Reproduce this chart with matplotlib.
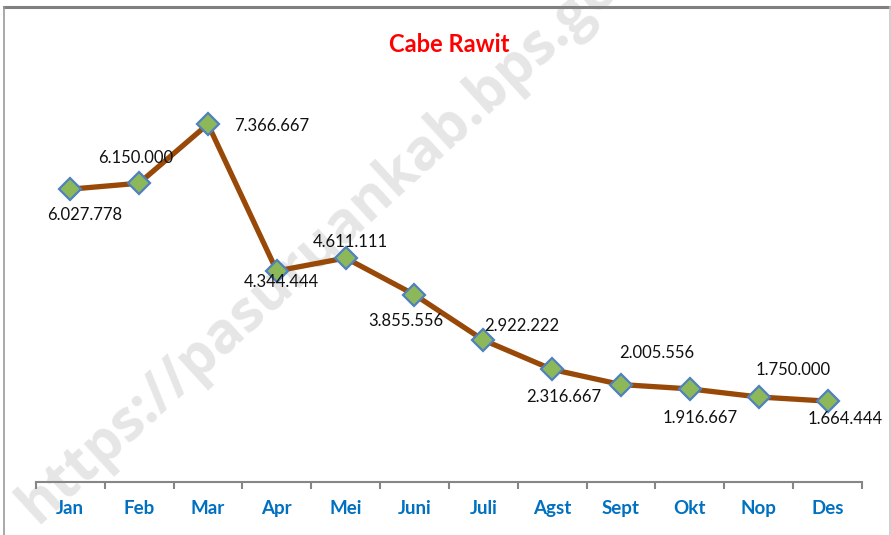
import matplotlib
matplotlib.use("Agg")
import matplotlib.pyplot as plt

months = ["Jan", "Feb", "Mar", "Apr", "Mei", "Juni", "Juli", "Agst", "Sept", "Okt", "Nop", "Des"]
values = [6027778, 6150000, 7366667, 4344444, 4611111, 3855556, 2922222, 2316667,
          2005556, 1916667, 1750000, 1664444]
title = "Cabe Rawit"

# label offsets in pixels (dx, dy)
offsets = [(14, -26), (-3, 25), (64, -2), (5, -11), (5, 16), (-9, -26), (38, 14),
           (12, -28), (36, 32), (10, -29), (34, 27), (18, -18)]

W, H = 891, 535
fig = plt.figure(figsize=(W / 100, H / 100), dpi=100)
fig.patch.set_facecolor("white")

def fx(px):
    return px / W

def fy(py):
    return 1 - py / H

# border
fig.add_artist(plt.Line2D([fx(4), fx(889)], [fy(7), fy(7)], color="#808080", lw=2.2))
fig.add_artist(plt.Line2D([fx(4), fx(4)], [fy(7), 0], color="#9a9a9a", lw=1.2))
fig.add_artist(plt.Line2D([fx(889.5), fx(889.5)], [fy(7), 0], color="#c8c8c8", lw=1.2))

# watermark (background)
fig.text(fx(345), fy(222), "https://pasuruankab.bps.go.id", rotation=42.5,
         fontsize=41, fontweight="bold", family="Open Sans", color="#e6e6e6",
         ha="center", va="center", zorder=0)

x0, x1 = 35.8, 862
y_axis = 482
ymax = 8000000
scale = 4.858e-5
ax = fig.add_axes([fx(x0), fy(y_axis), (x1 - x0) / W, ymax * scale / H])
ax.set_zorder(5)
ax.set_facecolor("none")
ax.set_xlim(-0.5, len(months) - 0.5)
ax.set_ylim(0, ymax)

xs = list(range(len(months)))
ax.plot(xs, values, color="#984807", lw=3.8, zorder=3, solid_joinstyle="round")
ax.plot(xs, values, ls="none", marker="D", ms=11.5, mfc="#8DB85A", mec="#4F81BD",
        mew=1.6, zorder=4)

for x, v, (dx, dy) in zip(xs, values, offsets):
    s = f"{v:,}".replace(",", ".")
    ax.annotate(s, (x, v), xytext=(dx, dy), textcoords="offset pixels",
                ha="center", va="center", fontsize=12, family="Lato",
                color="#111111", zorder=5, annotation_clip=False)

for sp in ["left", "right", "top"]:
    ax.spines[sp].set_visible(False)
ax.spines["bottom"].set_color("#868686")
ax.spines["bottom"].set_linewidth(1.5)
ax.set_yticks([])
ax.set_xticks(xs)
ax.set_xticklabels(months, fontsize=13.5, fontweight="bold", color="#0070C0",
                   family="Lato")
ax.tick_params(axis="x", length=0, pad=13)
ax.set_xticks([i - 0.5 for i in range(len(months) + 1)], minor=True)
ax.tick_params(axis="x", which="minor", length=5, width=1.5, color="#868686",
               direction="out")

fig.text(fx(449), fy(45), title, ha="center", va="center", fontsize=17,
         fontweight="bold", color="#FF0000", family="Lato", zorder=6)

fig.savefig("out.png", dpi=100)
